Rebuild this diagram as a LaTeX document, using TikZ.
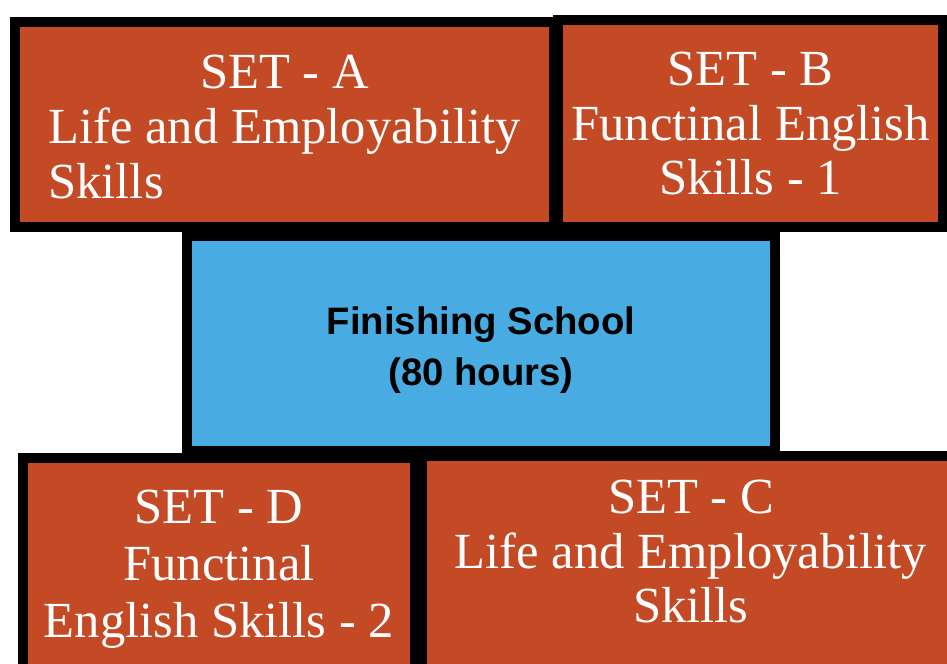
\documentclass[tikz,border=0pt]{standalone}
\usepackage{fontspec}
\setmainfont{Liberation Serif}
\newfontfamily\schoolfont{Liberation Sans}
\usepackage{tikz}
\usetikzlibrary{positioning}
\definecolor{setred}{RGB}{196,74,38}
\definecolor{schoolblue}{RGB}{72,172,226}
\tikzset{
    SetBox/.style = {rectangle, draw=black, line width=0.2cm, fill=setred, align=center,
        text=white, font=\fontsize{28.8}{31.2}\selectfont}
}
\tikzset{
    SchoolBox/.style = {rectangle, draw=black, line width=0.2cm, fill=schoolblue, align=center,
        text=black, font=\schoolfont\bfseries\fontsize{21.8}{29}\selectfont}
}
\begin{document}
\begin{tikzpicture}[
    x=0.02cm, y=-0.02cm
]
\useasboundingbox (0,0) rectangle (947,663);
% top row
\node[SetBox, minimum width=10.78cm, minimum height=4.10cm, text height=89.9pt] at (284.5,124.5) (setA)
    {SET - A\\ Life and Employability\\ \rlap{Skills}\phantom{Life and Employability}};
\node[SetBox, minimum width=7.70cm, minimum height=4.14cm] at (750.5,123.5) (setB)
    {SET - B\\ Functinal English\\ Skills - 1};
% middle
\node[SchoolBox, minimum width=11.76cm, minimum height=4.30cm, text height=52.1pt] at (481,343.5) (school)
    {Finishing School\\ (80 hours)};
% bottom row
\node[SetBox, minimum width=7.84cm, minimum height=4.24cm, text height=89.7pt,
    font=\fontsize{28.8}{32.3}\selectfont] at (219,564) (setD)
    {SET - D\\ Functinal\\ English Skills - 2};
\node[SetBox, minimum width=10.76cm, minimum height=4.28cm, text height=68.4pt] at (691,563) (setC)
    {SET - C\\ Life and Employability\\ Skills};
\end{tikzpicture}
\end{document}
